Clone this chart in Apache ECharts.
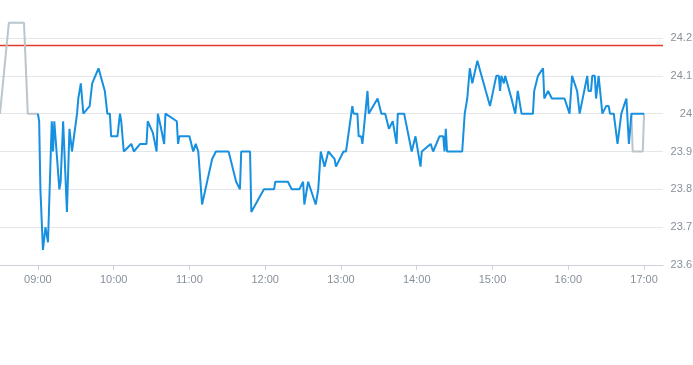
<!DOCTYPE html>
<html>
<head>
<meta charset="utf-8">
<script src="https://cdn.jsdelivr.net/npm/echarts@6/dist/echarts.min.js"></script>
<style>
html,body{margin:0;padding:0;background:#fff;}
#chart{width:693px;height:365px;}
</style>
</head>
<body>
<div id="chart"></div>
<script>
// Session (blue) price line
const sessionTimes = ["09:00","09:01","09:02","09:04","09:06","09:08","09:11","09:12","09:13","09:17","09:18","09:20","09:23","09:25","09:26","09:27","09:28","09:31","09:32","09:33","09:34","09:35","09:36","09:41","09:43","09:48","09:53","09:55","09:57","09:58",
"10:03","10:05","10:06","10:08","10:14","10:16","10:21","10:26","10:27","10:31","10:34","10:35","10:37","10:40","10:41","10:50","10:51","10:52",
"11:00","11:03","11:05","11:07","11:10","11:14","11:18","11:21","11:31","11:37","11:40","11:41","11:48","11:49","11:59",
"12:07","12:08","12:18","12:21","12:27","12:30","12:31","12:34","12:40","12:42","12:44","12:47","12:50","12:55","12:56",
"13:02","13:04","13:09","13:10","13:13","13:14","13:16","13:17","13:21","13:22","13:29","13:32","13:35","13:38","13:41","13:42","13:44","13:45","13:50","13:56","13:59",
"14:01","14:03","14:04","14:11","14:13","14:18","14:21","14:22","14:23","14:24","14:36","14:38","14:40","14:42","14:44","14:48","14:58",
"15:03","15:05","15:06","15:07","15:09","15:10","15:15","15:18","15:20","15:23","15:32","15:33","15:36","15:40","15:41","15:44","15:47","15:57",
"16:01","16:03","16:07","16:09","16:15","16:16","16:18","16:19","16:21","16:22","16:24","16:27","16:30","16:32","16:33","16:36","16:39","16:42","16:46","16:48","16:50","17:00"];
const sessionValues = [24.00,23.98,23.80,23.64,23.70,23.66,23.98,23.90,23.98,23.80,23.82,23.98,23.74,23.96,23.96,23.90,23.90,24.00,24.04,24.04,24.08,24.08,24.00,24.02,24.08,24.12,24.06,24.00,24.00,23.94,
23.94,24.00,23.98,23.90,23.92,23.90,23.92,23.92,23.98,23.95,23.90,24.00,23.97,23.92,24.00,23.98,23.92,23.94,
23.94,23.90,23.92,23.90,23.76,23.82,23.88,23.90,23.90,23.82,23.80,23.90,23.90,23.74,23.80,
23.80,23.82,23.82,23.80,23.80,23.82,23.76,23.82,23.76,23.80,23.90,23.86,23.90,23.88,23.86,
23.90,23.90,24.02,24.00,24.00,23.94,23.94,23.92,24.06,24.00,24.04,24.00,24.00,23.96,23.98,23.98,23.92,24.00,24.00,23.90,23.94,
23.90,23.86,23.90,23.92,23.90,23.94,23.94,23.90,23.96,23.90,23.90,24.00,24.04,24.12,24.08,24.14,24.02,
24.10,24.10,24.06,24.10,24.08,24.10,24.04,24.00,24.06,24.00,24.00,24.06,24.10,24.12,24.04,24.06,24.04,24.04,
24.00,24.10,24.06,24.00,24.10,24.06,24.06,24.10,24.10,24.04,24.10,24.00,24.02,24.02,24.00,24.00,23.92,24.00,24.04,23.92,24.00,24.00];

// Pre-session (grey) line
const preTimes = ["08:30","08:37","08:49","08:52","09:00"];
const preValues = [24.00,24.24,24.24,24.00,24.00];

// Post-session (grey) line
const postTimes = ["16:50","16:51","16:59","17:00"];
const postValues = [24.00,23.90,23.90,24.00];

// Reference (previous close) level
const refLevel = 24.18;

// Axis range and ticks
const xRange = ["08:30","17:15"];
const xTickLabels = ["09:00","10:00","11:00","12:00","13:00","14:00","15:00","16:00","17:00"];
const yTickLabels = ["23.6","23.7","23.8","23.9","24","24.1","24.2"];

function toMin(t){const p=t.split(":");return (+p[0])*60+(+p[1]);}
function fmt(m){const h=Math.floor(m/60),mm=Math.round(m%60);return String(h).padStart(2,"0")+":"+String(mm).padStart(2,"0");}
function pairs(ts,vs){return ts.map((t,i)=>[toMin(t),vs[i]]);}

const chart = echarts.init(document.getElementById('chart'), null, {renderer:'canvas'});
const labelColor = '#87909b';
const refColor = '#e5392e';
chart.setOption({
  animation:false,
  grid:{left:0,right:30,top:38,bottom:100,containLabel:false,outerBoundsMode:'none'},
  xAxis:{
    type:'value',
    min:toMin(xRange[0]),
    max:toMin(xRange[1]),
    axisLine:{show:true,lineStyle:{color:'#ccd2d8',width:1}},
    axisTick:{show:true,length:5,lineStyle:{color:'#ccd2d8'},customValues:xTickLabels.map(toMin)},
    axisLabel:{customValues:xTickLabels.map(toMin),formatter:v=>fmt(v),color:labelColor,fontSize:11,fontFamily:'Liberation Sans, Arial, sans-serif',margin:9},
    splitLine:{show:false}
  },
  yAxis:{
    type:'value',
    position:'right',
    min:+yTickLabels[0],
    max:+yTickLabels[yTickLabels.length-1],
    interval:0.1,
    axisLine:{show:false},
    axisTick:{show:false},
    axisLabel:{color:labelColor,fontSize:11,fontFamily:'Liberation Sans, Arial, sans-serif',align:'right',margin:29,
      formatter:v=>String(Math.round(v*10)/10)},
    splitLine:{show:true,lineStyle:{color:'#e4e6e8',width:1}}
  },
  series:[
    {type:'line',data:xRange.map(t=>[toMin(t),refLevel]),showSymbol:false,silent:true,
     lineStyle:{color:refColor,width:1.4},itemStyle:{color:refColor},z:1},
    {type:'line',data:pairs(preTimes,preValues),showSymbol:false,clip:false,
     lineStyle:{color:'#bcc5cc',width:2},itemStyle:{color:'#bcc5cc'},z:2},
    {type:'line',data:pairs(postTimes,postValues),showSymbol:false,clip:false,
     lineStyle:{color:'#bcc5cc',width:2},itemStyle:{color:'#bcc5cc'},z:2},
    {type:'line',data:pairs(sessionTimes,sessionValues),showSymbol:false,clip:false,
     lineStyle:{color:'#1790e0',width:2},itemStyle:{color:'#1790e0'},z:3}
  ]
});
</script>
</body>
</html>
